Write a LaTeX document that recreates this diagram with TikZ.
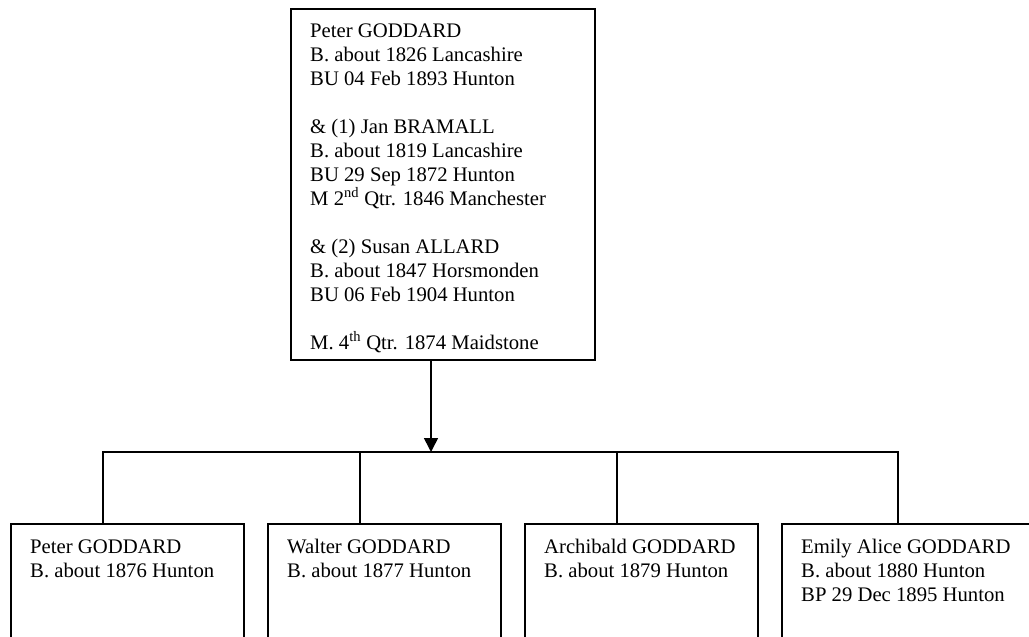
\documentclass[tikz,border=0pt]{standalone}
\usepackage{fontspec}
\setmainfont{Liberation Serif}
\usetikzlibrary{arrows.meta}
\begin{document}
\begin{tikzpicture}[x=1pt,y=-1pt,
  box/.style={draw=black, line width=1.6pt, rectangle, inner sep=0pt, anchor=north west},
  txt/.style={anchor=north west, inner sep=0pt, align=left, font=\fontsize{20.7}{24}\selectfont},
  link/.style={draw=black, line width=1.6pt},
  arr/.style={link, -{Triangle[width=14pt,length=14pt]}}]
\useasboundingbox (0,0) rectangle (1029,637);
\clip (0,0) rectangle (1029,637);
% parent box
\node[box, minimum width=304pt, minimum height=351pt] (top) at (290,8) {};
\node[txt] (toptxt) at (310,21) {\rule{0pt}{16pt}Peter GODDARD\\
B. about 1826 Lancashire\\
BU 04 Feb 1893 Hunton\\[24pt]
\& (1) Jan BRAMALL\\
B. about 1819 Lancashire\\
BU 29 Sep 1872 Hunton\\
M 2\textsuperscript{nd} Qtr. 1846 Manchester\\[24pt]
\& (2) Susan ALLARD\\
B. about 1847 Horsmonden\\
BU 06 Feb 1904 Hunton\\[24pt]
M. 4\textsuperscript{th} Qtr. 1874 Maidstone};
% children boxes
\node[box, minimum width=233pt, minimum height=160pt] (c1) at (10,523) {};
\node[box, minimum width=233pt, minimum height=160pt] (c2) at (267,523) {};
\node[box, minimum width=233pt, minimum height=160pt] (c3) at (524,523) {};
\node[box, minimum width=260pt, minimum height=160pt] (c4) at (781,523) {};
\node[txt] (c1txt) at (30,537) {\rule{0pt}{16pt}Peter GODDARD\\B. about 1876 Hunton};
\node[txt] (c2txt) at (287,537) {\rule{0pt}{16pt}Walter GODDARD\\B. about 1877 Hunton};
\node[txt] (c3txt) at (544,537) {\rule{0pt}{16pt}Archibald GODDARD\\B. about 1879 Hunton};
\node[txt] (c4txt) at (801,537) {\rule{0pt}{16pt}Emily Alice GODDARD\\B. about 1880 Hunton\\BP 29 Dec 1895 Hunton};
% connectors
\coordinate (j) at (431,452);
\coordinate (d1) at (103,452);
\coordinate (d2) at (360,452);
\coordinate (d3) at (617,452);
\coordinate (d4) at (898,452);
\draw[arr] (top.south -| j) -- (j);
\draw[link, line cap=rect] (d1) -- (d4);
\draw[link] (d1) -- (d1 |- c1.north);
\draw[link] (d2) -- (d2 |- c2.north);
\draw[link] (d3) -- (d3 |- c3.north);
\draw[link] (d4) -- (d4 |- c4.north);
\end{tikzpicture}
\end{document}
